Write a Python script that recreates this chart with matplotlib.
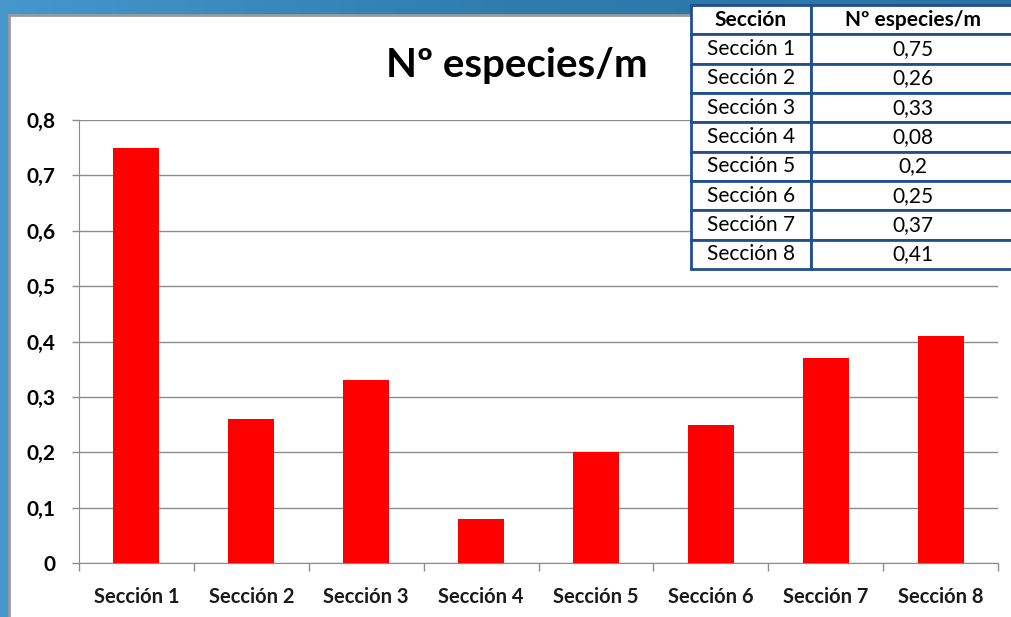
import numpy as np
import matplotlib.pyplot as plt
from matplotlib.patches import Rectangle
from matplotlib.colors import LinearSegmentedColormap

secciones = ["Sección 1", "Sección 2", "Sección 3", "Sección 4",
             "Sección 5", "Sección 6", "Sección 7", "Sección 8"]
especies = [0.75, 0.26, 0.33, 0.08, 0.2, 0.25, 0.37, 0.41]
especies_txt = ["0,75", "0,26", "0,33", "0,08", "0,2", "0,25", "0,37", "0,41"]
y_ticks = [0, 0.1, 0.2, 0.3, 0.4, 0.5, 0.6, 0.7, 0.8]
y_labels = ["0", "0,1", "0,2", "0,3", "0,4", "0,5", "0,6", "0,7", "0,8"]

plt.rcParams['font.family'] = ['Lato', 'DejaVu Sans']

W, H = 1011, 617
fig = plt.figure(figsize=(W / 100, H / 100), dpi=100)

# blue background + white panel
bg = fig.add_axes([0, 0, 1, 1], zorder=-5)
grad = np.linspace(0, 1, 256).reshape(1, -1)
cmap = LinearSegmentedColormap.from_list("bg", ["#4597cc", "#2f7cad", "#2a73a6"])
bg.imshow(grad, aspect='auto', cmap=cmap, extent=[0, 1, 0, 1])
bg.set_xlim(0, 1)
bg.set_ylim(0, 1)
bg.axis('off')
bg.add_patch(Rectangle((9 / W, -0.01), 1.0, 1 - 15 / H + 0.01,
                       transform=bg.transAxes, facecolor='white',
                       edgecolor='#9a9a9a', linewidth=2, clip_on=False))

ax = fig.add_axes([79 / W, 1 - 563 / H, (998 - 79) / W, (563 - 120) / H])
x = np.arange(len(secciones))
ax.bar(x, especies, width=0.4, color='#ff0000', zorder=3)
ax.set_xlim(-0.5, len(secciones) - 0.5)
ax.set_ylim(0, 0.8)
ax.set_yticks(y_ticks)
ax.set_yticklabels(y_labels, fontsize=15, fontweight='bold')
ax.set_xticks(x)
ax.set_xticklabels(secciones, fontsize=14.5, fontweight='bold', color='#1a1a1a')
ax.set_xticks(np.arange(-0.5, len(secciones)), minor=True)
ax.tick_params(axis='x', which='major', length=0, pad=17)
ax.tick_params(axis='x', which='minor', length=6, color='#8c8c8c', width=1)
ax.tick_params(axis='y', length=5, color='#8c8c8c', width=1, pad=12)
ax.grid(axis='y', color='#8c8c8c', linewidth=1, zorder=0)
for s in ['top', 'right']:
    ax.spines[s].set_visible(False)
for s in ['left', 'bottom']:
    ax.spines[s].set_color('#8c8c8c')
ax.set_facecolor('white')

fig.text(517 / W, 1 - 65 / H, "Nº especies/m", fontsize=29, fontweight='bold',
         ha='center', va='center')

# data table
tax = fig.add_axes([691 / W, 1 - 269 / H, 324 / W, 264 / H], zorder=5)
tax.axis('off')
cells = [[s, v] for s, v in zip(secciones, especies_txt)]
tbl = tax.table(cellText=cells, colLabels=["Sección", "Nº especies/m"],
                cellLoc='center', bbox=[0, 0, 1, 1], colWidths=[0.37, 0.63])
tbl.auto_set_font_size(False)
for (r, c), cell in tbl.get_celld().items():
    cell.set_edgecolor('#1f4f8f')
    cell.set_linewidth(2)
    cell.set_facecolor('white')
    cell.get_text().set_fontsize(15)
    if r == 0:
        cell.get_text().set_fontweight('bold')

fig.savefig("out.png", dpi=100)
